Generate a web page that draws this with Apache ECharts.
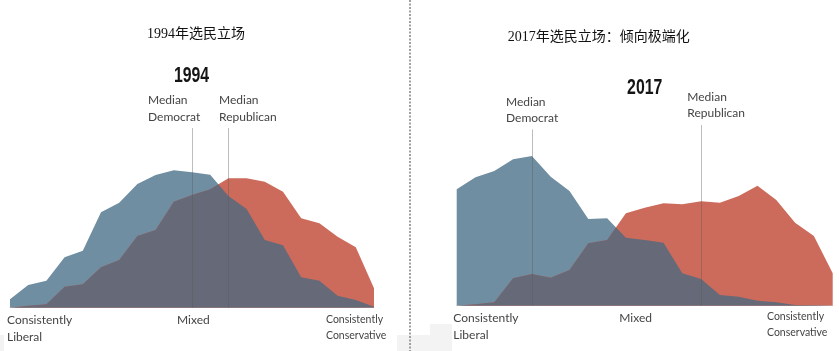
<!DOCTYPE html>
<html>
<head>
<meta charset="utf-8">
<script src="https://cdn.jsdelivr.net/npm/echarts@6/dist/echarts.min.js"></script>
<style>
html,body{margin:0;padding:0;background:#fff;}
#chart{width:839px;height:351px;}
</style>
</head>
<body>
<div id="chart"></div>
<script>
// ---- data ----
const bins = ['1','2','3','4','5','6','7','8','9','10','11','12','13','14','15','16','17','18','19','20','21'];
const dem1994 = [2.5, 6.8, 8.1, 15.1, 17.1, 28.6, 31.5, 37.1, 39.8, 41.2, 40.6, 39.9, 33.5, 29.6, 20.3, 18.7, 9.1, 8.1, 3.6, 2.3, 0.3];
const rep1994 = [0, 0.6, 1.0, 6.3, 7.0, 12.1, 14.3, 21.5, 23.3, 31.8, 33.8, 35.5, 38.8, 38.8, 37.8, 34.8, 26.8, 25.3, 21.3, 18.1, 5.8];
const dem2017 = [34.9, 38.5, 40.4, 43.9, 44.9, 38.7, 34.4, 26.0, 26.2, 20.4, 19.7, 18.9, 9.7, 8.0, 3.2, 2.7, 1.5, 1.0, 0.2, 0.1, 0];
const rep2017 = [0, 0.4, 1.0, 8.2, 9.5, 8.4, 10.7, 18.7, 19.7, 27.7, 29.4, 30.7, 30.4, 31.3, 30.9, 32.9, 36.0, 31.7, 24.9, 20.9, 9.7];
const medianBin1994 = {dem: 10, rep: 12};
const medianBin2017 = {dem: 4, rep: 13};
const titles = ['1994年选民立场', '2017年选民立场：倾向极端化'];
const years = ['1994', '2017'];
const scaleLabels = ['Consistently', 'Liberal', 'Mixed', 'Consistently', 'Conservative'];
const medianLabels = ['Median', 'Democrat', 'Republican'];

// ---- style ----
const BLUE = '#6F8EA1', RED = '#CC6B5B', DARK = '#656978';
const LABEL_FONT = 'Lato, "Noto Sans", sans-serif';
const LABEL_COLOR = '#444444';

function areaSeries(xi, data, color, z) {
  return {
    type: 'line', xAxisIndex: xi, yAxisIndex: xi, data: data,
    symbol: 'none', silent: true, z: z,
    lineStyle: {opacity: 0, width: 0},
    areaStyle: {color: color, opacity: 1}
  };
}
function overlapSeries(xi, dem, rep) {
  return {
    type: 'custom', xAxisIndex: xi, yAxisIndex: xi, z: 4, silent: true,
    data: [[0, 0]],
    renderItem: function (params, api) {
      const n = dem.length;
      const b0 = api.coord([0, 0]), bN = api.coord([n - 1, 0]);
      const repPts = rep.map((v, i) => api.coord([i, v]));
      const demPts = dem.map((v, i) => api.coord([i, v]));
      return {
        type: 'polygon',
        shape: {points: [b0].concat(repPts, [bN])},
        style: {fill: DARK},
        clipPath: {type: 'polygon', shape: {points: [b0].concat(demPts, [bN])}}
      };
    }
  };
}
function medianSeries(xi, med, topDem, topRep) {
  return {
    type: 'line', xAxisIndex: xi, yAxisIndex: xi, data: [], z: 6, silent: true,
    markLine: {
      silent: true, symbol: 'none', animation: false,
      label: {show: false},
      lineStyle: {color: 'rgba(90,90,90,0.4)', width: 1, type: 'solid'},
      data: [
        [{coord: [med.dem, 0]}, {coord: [med.dem, topDem]}],
        [{coord: [med.rep, 0]}, {coord: [med.rep, topRep]}]
      ]
    }
  };
}
function txt(x, y, text, opts, extra) {
  return Object.assign({
    type: 'text', x: x, y: y, silent: true,
    style: Object.assign({
      text: text, font: '12px ' + LABEL_FONT, fill: LABEL_COLOR,
      textAlign: 'left', textVerticalAlign: 'middle'
    }, opts || {})
  }, extra || {});
}
const TITLE_FONT = '14px "Liberation Serif", "Noto Sans CJK SC", serif';
const YEAR_FONT = 'bold 22px "Liberation Sans", Arial, sans-serif';
const SMALL = {font: '10.5px ' + LABEL_FONT};

const axisBase = {
  type: 'category', data: bins, boundaryGap: false,
  axisLine: {show: true, lineStyle: {color: '#d6d6d6', width: 1}},
  axisTick: {show: false}, axisLabel: {show: false}, splitLine: {show: false}
};
const yBase = {type: 'value', min: 0, max: 60, show: false, splitLine: {show: false}};

const chart = echarts.init(document.getElementById('chart'), null, {renderer: 'canvas'});
chart.setOption({
  animation: false,
  backgroundColor: '#ffffff',
  grid: [
    {left: 10, top: 107.7, width: 364, height: 200},
    {left: 456.7, top: 105.7, width: 376, height: 200}
  ],
  xAxis: [Object.assign({gridIndex: 0}, axisBase), Object.assign({gridIndex: 1}, axisBase)],
  yAxis: [Object.assign({gridIndex: 0}, yBase), Object.assign({gridIndex: 1}, yBase)],
  series: [
    areaSeries(0, dem1994, BLUE, 2),
    areaSeries(0, rep1994, RED, 3),
    overlapSeries(0, dem1994, rep1994),
    medianSeries(0, medianBin1994, 53.9, 53.9),
    areaSeries(1, dem2017, BLUE, 2),
    areaSeries(1, rep2017, RED, 3),
    overlapSeries(1, dem2017, rep2017),
    medianSeries(1, medianBin2017, 52.9, 54.2)
  ],
  graphic: [
    {type: 'rect', shape: {x: 0, y: 335, width: 4, height: 16}, style: {fill: '#f3f3f3'}, silent: true, z: -1},
    {type: 'rect', shape: {x: 397, y: 335, width: 33, height: 16}, style: {fill: '#f3f3f3'}, silent: true, z: -1},
    {type: 'rect', shape: {x: 430, y: 324, width: 22, height: 27}, style: {fill: '#f3f3f3'}, silent: true, z: -1},
    {type: 'line', shape: {x1: 410, y1: 0, x2: 410, y2: 351}, style: {stroke: '#8a8a8a', lineWidth: 1.6, lineDash: [2, 1.5]}, silent: true},
    txt(196, 34, titles[0], {font: TITLE_FONT, fill: '#111', textAlign: 'center'}),
    txt(598.7, 37, titles[1], {font: TITLE_FONT, fill: '#111', textAlign: 'center'}),
    txt(191.5, 75.5, years[0], {font: YEAR_FONT, fill: '#151515', textAlign: 'center'}, {scaleX: 0.72}),
    txt(644.7, 88, years[1], {font: YEAR_FONT, fill: '#151515', textAlign: 'center'}, {scaleX: 0.72}),
    txt(148, 100, medianLabels[0]), txt(148, 117, medianLabels[1]),
    txt(219, 100, medianLabels[0]), txt(219, 117, medianLabels[2]),
    txt(506, 102, medianLabels[0]), txt(506, 118, medianLabels[1]),
    txt(687.3, 97, medianLabels[0]), txt(687.3, 113, medianLabels[2]),
    txt(7, 320, scaleLabels[0]), txt(7, 337, scaleLabels[1]),
    txt(177, 320, scaleLabels[2]),
    txt(326, 320, scaleLabels[3], SMALL), txt(326, 335.5, scaleLabels[4], SMALL),
    txt(453.3, 318.5, scaleLabels[0]), txt(453.3, 335.5, scaleLabels[1]),
    txt(619.3, 318.5, scaleLabels[2]),
    txt(767, 317, scaleLabels[3], SMALL), txt(767, 333, scaleLabels[4], SMALL)
  ]
});
</script>
</body>
</html>
